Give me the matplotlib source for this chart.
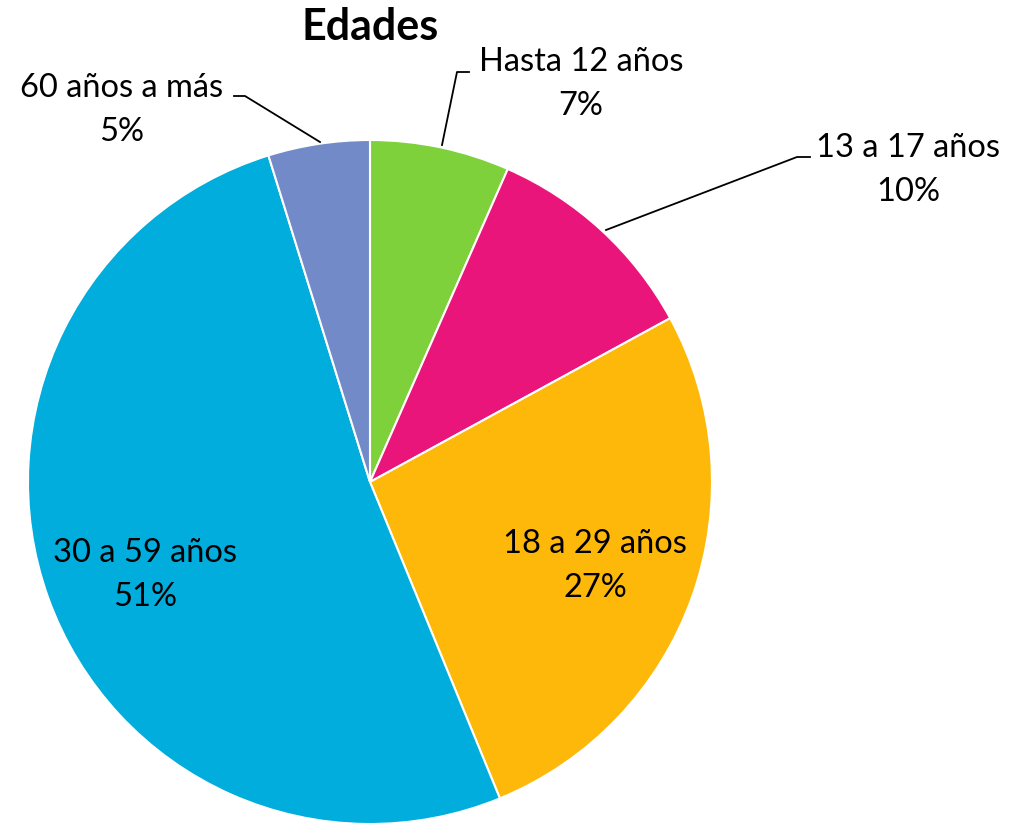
import matplotlib
matplotlib.use("Agg")
import matplotlib.pyplot as plt

categories = ["Hasta 12 años", "13 a 17 años", "18 a 29 años", "30 a 59 años", "60 años a más"]
values = [6.6, 10.45, 26.75, 51.4, 4.8]
colors = ["#7FD13B", "#EA157A", "#FEB80A", "#00ADDC", "#738AC8"]
title = "Edades"

W, H = 1012, 829
CX, CY, R = 370, 483, 342

fig = plt.figure(figsize=(W / 100, H / 100), dpi=100)
ax = fig.add_axes([(CX - R) / W, (H - CY - R) / H, 2 * R / W, 2 * R / H])
ax.pie(values, colors=colors, startangle=90, counterclock=False, radius=1,
       wedgeprops=dict(edgecolor="white", linewidth=1.5))
ax.set_xlim(-1, 1)
ax.set_ylim(-1, 1)
ax.set_aspect("equal")
ax.axis("off")


def P(px, py):
    return ((px - CX) / R, (CY - py) / R)


font = "Lato"
fs = 23.5
total = sum(values)
label_pos = [(581, 84), (908, 170), (595, 566), (145, 575), (122, 110)]
for cat, v, (px, py) in zip(categories, values, label_pos):
    x, y = P(px, py)
    ax.text(x, y, f"{cat}\n{round(v / total * 100)}%", ha="center", va="center",
            fontsize=fs, family=font, linespacing=1.55, color="black")

leaders = [
    [(442, 146), (457, 73), (469, 73)],
    [(606, 231), (797, 158), (810, 158)],
    [(320, 143), (245, 97), (234, 97)],
]
for pts in leaders:
    xs, ys = zip(*[P(a, b) for a, b in pts])
    ax.plot(xs, ys, color="black", lw=1.3, clip_on=False)

fig.text(CX / W, 1 - 27 / H, title, ha="center", va="center", fontsize=31,
         fontweight="bold", family=font)

fig.savefig("out.png", dpi=100)
